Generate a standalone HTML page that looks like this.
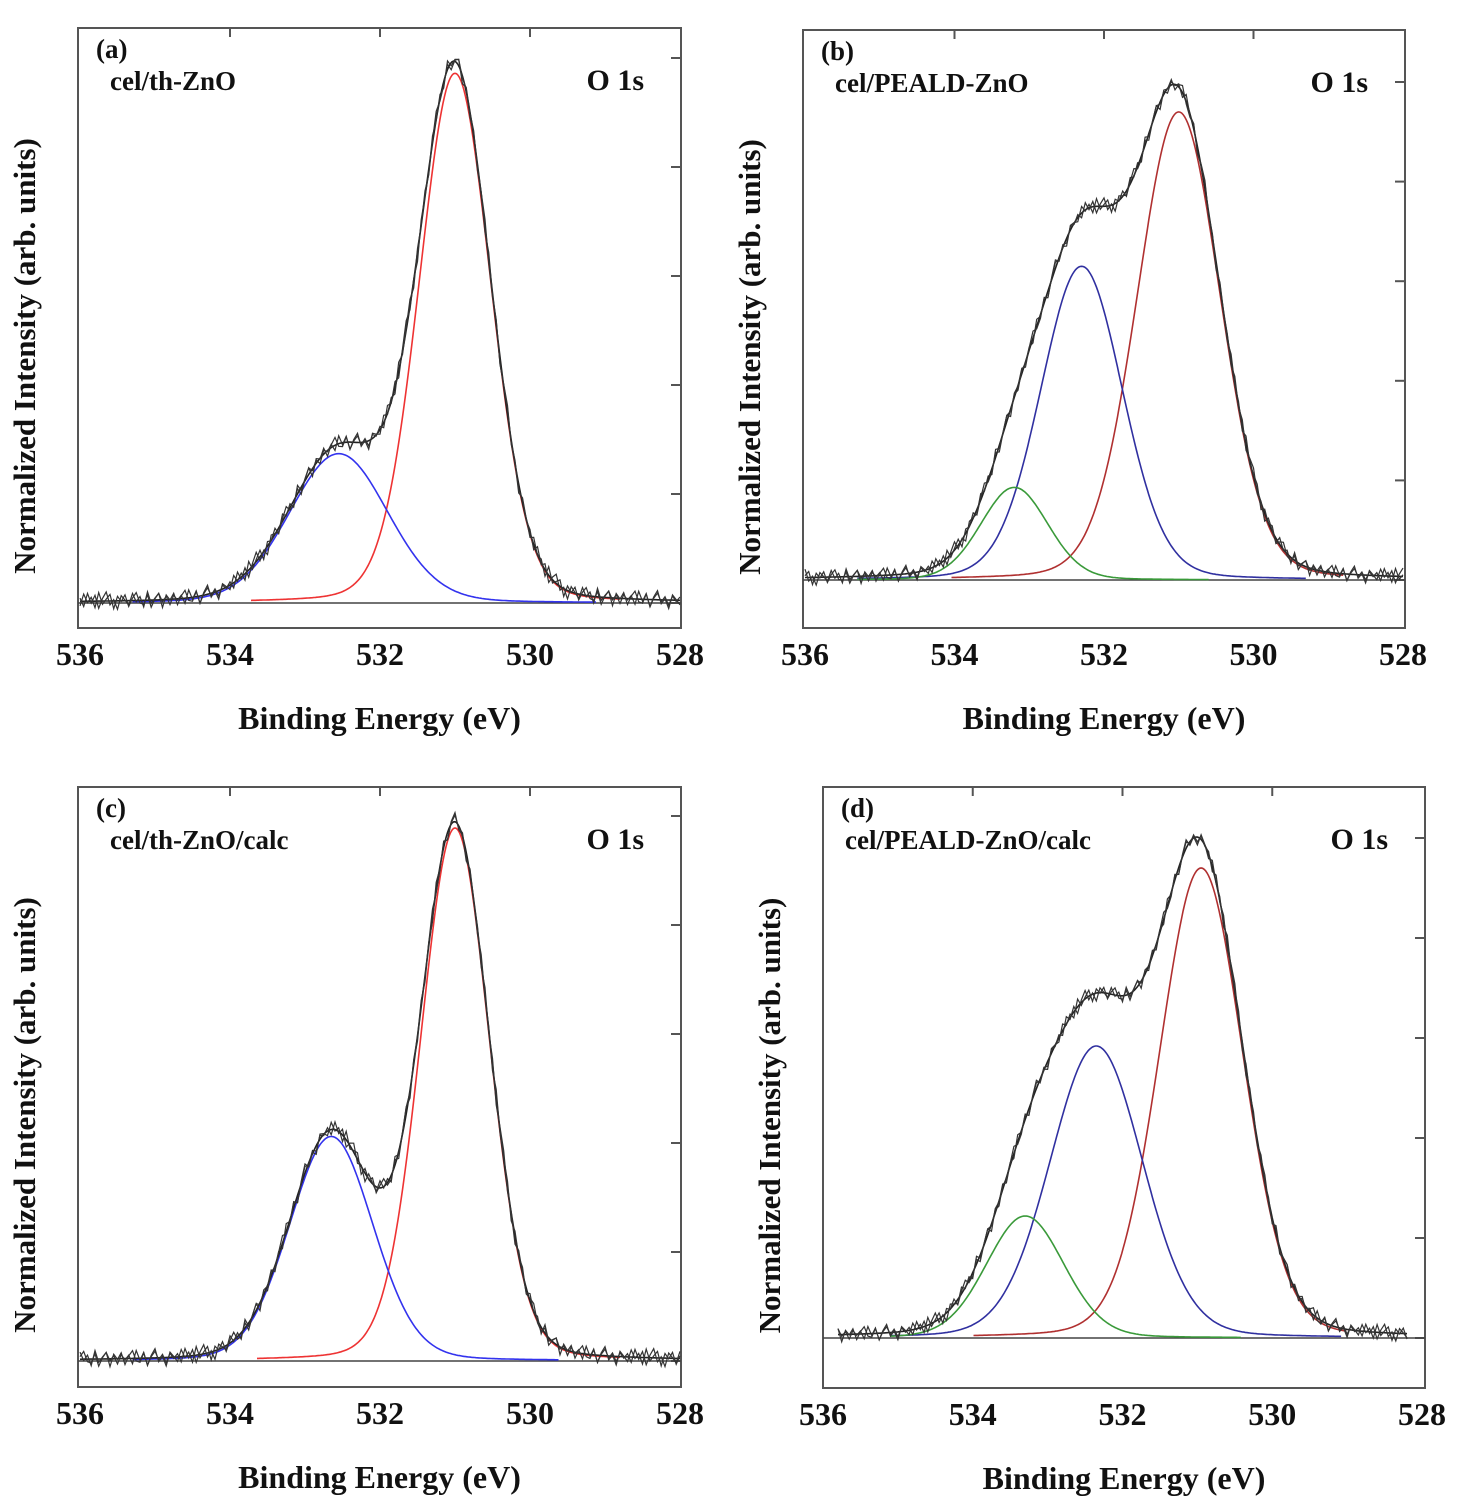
<!DOCTYPE html>
<html><head><meta charset="utf-8"><style>
body{margin:0;background:#fff}
svg{display:block}
text{font-family:"Liberation Serif",serif;font-weight:bold;fill:#111}
</style></head><body>
<svg id="fig" width="1457" height="1509" viewBox="0 0 1457 1509"></svg>
<script>
// ---- data ----
const panelLabels=["(a)","(b)","(c)","(d)"];
const sampleNames=["cel/th-ZnO","cel/PEALD-ZnO","cel/th-ZnO/calc","cel/PEALD-ZnO/calc"];
const xTicks=[536,534,532,530,528];
// component fit parameters: [center eV, height (tick units), sigma eV]
const redA=[531.0,4.86,0.48], blueA=[532.55,1.37,0.66];
const redB=[531.0,4.70,0.56], blueB=[532.3,3.15,0.55], greenB=[533.2,0.93,0.45];
const redC=[531.0,4.89,0.46], blueC=[532.65,2.06,0.56];
const redD=[530.95,4.70,0.56], blueD=[532.35,2.92,0.62], greenD=[533.3,1.22,0.52];
// measured noise residuals (tick units)
const noise=[0.05,-0.08,0.12,-0.03,0.09,-0.11,0.04,0.14,-0.06,0.02,-0.13,0.08,0.01,-0.07,0.11,-0.02,0.06,-0.1,0.13,-0.05,0.03,0.1,-0.12,0.07,-0.01,0.09,-0.09,0.04,0.12,-0.04,-0.06,0.08,-0.11,0.02,0.1,-0.03,0.05,-0.08,0.06,-0.02];

const panels=[
 {L:78,T:28,R:681,B:628,x0:80,x1:680,base:603,step:109,comps:[[redA,"#ee3333"],[blueA,"#3333ee"]],dr:[536,528]},
 {L:803,T:30,R:1405,B:628,x0:805,x1:1403,base:580,step:99.6,comps:[[redB,"#b03030"],[blueB,"#3030a0"],[greenB,"#3a9a3a"]],dr:[536,528]},
 {L:78,T:787,R:681,B:1387,x0:80,x1:680,base:1361,step:109,comps:[[redC,"#ee3333"],[blueC,"#3333ee"]],dr:[536,528]},
 {L:823,T:787,R:1425,B:1388,x0:823,x1:1422,base:1338,step:100,comps:[[redD,"#b03030"],[blueD,"#3030a0"],[greenD,"#3a9a3a"]],dr:[535.8,528.2]}
];
const NS="http://www.w3.org/2000/svg";
const svg=document.getElementById('fig');
function mk(tag,attrs,parent){const e=document.createElementNS(NS,tag);for(const k in attrs)e.setAttribute(k,attrs[k]);(parent||svg).appendChild(e);return e;}
const MIX=0.12;
function g(c,e){const dx=e-c[0],s=c[2],gam=s*1.177;
 return c[1]*((1-MIX)*Math.exp(-dx*dx/(2*s*s))+MIX/(1+dx*dx/(gam*gam)));}

panels.forEach((p,i)=>{
 const grp=mk('g',{});
 
 
 const X=e=>p.x0+(536-e)/8*(p.x1-p.x0);
 const Y=v=>p.base-v*p.step;
 const fr=mk('rect',{x:p.L,y:p.T,width:p.R-p.L,height:p.B-p.T,fill:'none',stroke:'#555','stroke-width':2},grp);
 
 
 for(let k=0;k<6;k++){const yy=Y(k);const t=mk('line',{x1:p.R-10,x2:p.R,y1:yy,y2:yy,stroke:'#555','stroke-width':2},grp);
  }
 xTicks.forEach(v=>{const xx=X(v);
  if(v!==536&&v!==528){const t=mk('line',{x1:xx,x2:xx,y1:p.T,y2:p.T+9,stroke:'#555','stroke-width':2},grp);
   }
  const tl=mk('text',{x:xx,y:p.B+37,'text-anchor':'middle','font-size':32},grp);tl.textContent=v;
  });
 const bl=mk('line',{x1:p.L,x2:p.R,y1:p.base,y2:p.base,stroke:'#444','stroke-width':1.5},grp);
 
 p.comps.forEach((cc,j)=>{const c=cc[0];let d='';
  const hi=Math.min(p.dr[0]-0.7,c[0]+4*c[2]+0.8), lo=Math.max(p.dr[1]+0.8,c[0]-4*c[2]-0.8);
  for(let e=hi;e>=lo;e-=0.02){d+=(d?'L':'M')+X(e).toFixed(1)+','+Y(g(c,e)).toFixed(1);}
  const pa=mk('path',{d:d,fill:'none',stroke:cc[1],'stroke-width':1.6},grp);
  });
 const env=e=>p.comps.reduce((s,cc)=>s+g(cc[0],e),0);
 let d='';for(let e=p.dr[0];e>=p.dr[1];e-=0.02){d+=(d?'L':'M')+X(e).toFixed(1)+','+Y(env(e)).toFixed(1);}
 const en=mk('path',{d:d,fill:'none',stroke:'#222','stroke-width':1.6},grp);
 
 [0,13].forEach((off,r)=>{
  let dd='';let n=0;for(let e=p.dr[0];e>=p.dr[1]-1e-6;e-=0.05,n++){const v=env(e)+noise[(n+i*7+off)%noise.length]*0.6;
   dd+=(dd?'L':'M')+X(e).toFixed(1)+','+Y(v).toFixed(1);}
  const dt=mk('path',{d:dd,fill:'none',stroke:'#333','stroke-width':1.2},grp);
  
 });
 const pl=mk('text',{x:p.L+18,y:p.T+30,'font-size':27},grp);pl.textContent=panelLabels[i];
 
 const sn=mk('text',{x:p.L+(i===3?22:32),y:p.T+62,'font-size':27},grp);sn.textContent=sampleNames[i];
 
 const o1=mk('text',{x:p.R-37,y:p.T+62,'font-size':30,'text-anchor':'end'},grp);o1.textContent="O 1s";
 
 const xt=mk('text',{x:(p.L+p.R)/2,y:p.B+101,'font-size':32,'text-anchor':'middle'},grp);xt.textContent="Binding Energy (eV)";
 
 const cy=(p.T+p.B)/2+28,cx=p.L-43;
 const yt=mk('text',{x:cx,y:cy,'font-size':31,'text-anchor':'middle',transform:'rotate(-90 '+cx+' '+cy+')'},grp);
 yt.textContent="Normalized Intensity (arb. units)";
 
});
</script>
</body></html>
